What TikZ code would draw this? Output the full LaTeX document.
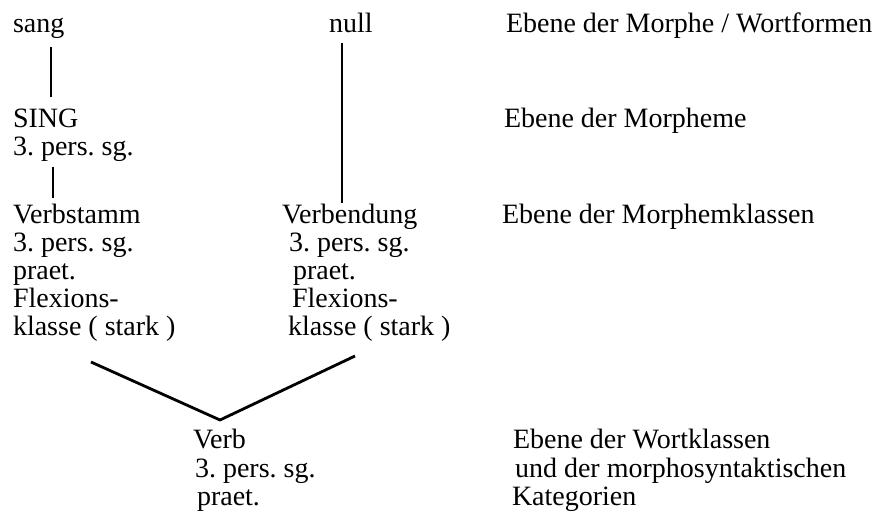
\documentclass[tikz,border=0pt]{standalone}
\usepackage{fontspec}
\setmainfont{Liberation Serif}
\frenchspacing
\begin{document}
\begin{tikzpicture}[x=1pt,y=1pt,
  txt/.style={anchor=base west, inner sep=0pt, outer sep=0pt,
              font=\fontsize{28}{28}\selectfont},
  link/.style={line width=2.8pt, line cap=butt, line join=round}]
\useasboundingbox (0,0) rectangle (877,-517);

% left column: word form, morpheme, stem
\node[txt] (sang)   at (13,-32)  {sang};
\node[txt] (sing)   at (13,-127) {SING};
\node[txt] (singp)  at (13,-155) {3. pers. sg.};
\node[txt] (stamm)  at (13,-223) {Verbstamm};
\node[txt] (stammp) at (13,-251) {3. pers. sg.};
\node[txt] (stammt) at (13,-279) {praet.};
\node[txt] (stammf) at (13,-307) {Flexions-};
\node[txt] (stammk) at (13,-335) {klasse ( stark )};

% middle column: zero ending
\node[txt] (null)   at (329,-32)  {null};
\node[txt] (end)    at (282,-223) {Verbendung};
\node[txt] (endp)   at (289,-251) {3. pers. sg.};
\node[txt] (endt)   at (293,-279) {praet.};
\node[txt] (endf)   at (292,-307) {Flexions-};
\node[txt] (endk)   at (288,-335) {klasse ( stark )};

% bottom: word class
\node[txt] (verb)   at (193,-448) {Verb};
\node[txt] (verbp)  at (195,-477) {3. pers. sg.};
\node[txt] (verbt)  at (197,-505) {praet.};

% right column: level labels
\node[txt] (lev1)   at (506,-32)  {Ebene der Morphe / Wortformen};
\node[txt] (lev2)   at (504,-127) {Ebene der Morpheme};
\node[txt] (lev3)   at (502,-223) {Ebene der Morphemklassen};
\node[txt] (lev4a)  at (513,-448) {Ebene der Wortklassen};
\node[txt] (lev4b)  at (515,-477) {und der morphosyntaktischen};
\node[txt] (lev4c)  at (512,-505) {Kategorien};

% connectors
\draw[link] ([xshift=38pt,yshift=-15pt]sang.base west)
         -- ([xshift=38pt,yshift=30pt]sing.base west);
\draw[link] ([xshift=40pt,yshift=-12pt]singp.base west)
         -- ([xshift=40pt,yshift=25pt]stamm.base west);
\draw[link] ([xshift=13pt,yshift=-11pt]null.base west)
         -- ([xshift=60pt,yshift=20pt]end.base west);
\draw[link] ([xshift=78pt,yshift=-27pt]stammk.base west)
         -- ([xshift=27pt,yshift=28pt]verb.base west)
         -- ([xshift=67pt,yshift=-21pt]endk.base west);
\end{tikzpicture}
\end{document}
